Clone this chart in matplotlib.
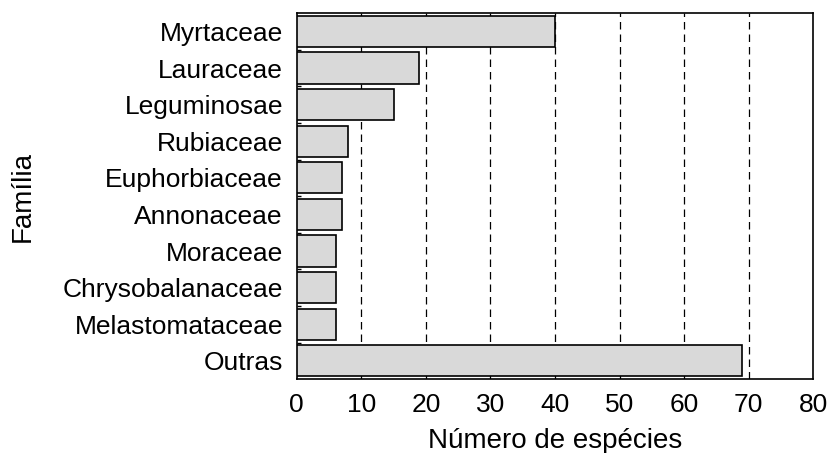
import numpy as np
import matplotlib.pyplot as plt

plt.rcParams['font.family'] = ['Liberation Sans', 'DejaVu Sans']

familias = ["Myrtaceae", "Lauraceae", "Leguminosae", "Rubiaceae", "Euphorbiaceae",
            "Annonaceae", "Moraceae", "Chrysobalanaceae", "Melastomataceae", "Outras"]
especies = [40, 19, 15, 8, 7, 7, 6, 6, 6, 69]

fig = plt.figure(figsize=(8.29, 4.53), dpi=100)
ax = fig.add_axes([0.358, 0.163, 0.623, 0.808])

y = np.arange(len(familias))
ax.barh(y, especies, height=0.85, color="#d9d9d9", edgecolor="black", linewidth=1.2, zorder=3)

ax.set_xlim(0, 80)
ax.set_ylim(len(familias) - 0.5, -0.5)
ax.set_xticks(range(0, 81, 10))
for xv in range(10, 80, 10):
    ax.axvline(xv, color="black", linestyle=(0, (6, 4)), linewidth=0.9, zorder=1)

ax.set_yticks(y)
ax.set_yticklabels(familias)
ax.set_yticks(np.arange(0.5, len(familias) - 1, 1), minor=True)
ax.tick_params(axis="y", which="major", length=0, pad=10, labelsize=19)
ax.tick_params(axis="y", which="minor", direction="in", length=3, width=1)
ax.tick_params(axis="x", length=0, pad=10, labelsize=19)

for s in ax.spines.values():
    s.set_linewidth(1.2)

ax.set_xlabel("Número de espécies", fontsize=20, labelpad=8)
ax.set_ylabel("Família", fontsize=20, labelpad=19)

fig.savefig("out.png", dpi=100)
